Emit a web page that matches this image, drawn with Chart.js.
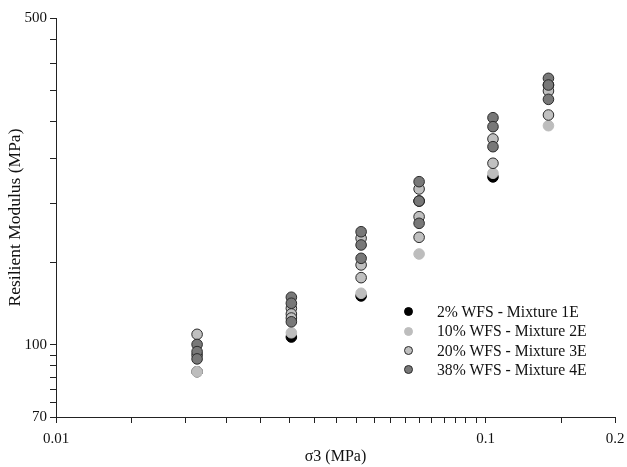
<!DOCTYPE html>
<html>
<head>
<meta charset="utf-8">
<script src="https://cdn.jsdelivr.net/npm/chart.js@4/dist/chart.umd.min.js"></script>
<style>
  html, body { margin: 0; padding: 0; background: #fff; }
  #wrap { position: relative; width: 627px; height: 467px; }
  #legend { position: absolute; left: 404px; top: 302px; font-family: 'Liberation Serif', 'Times New Roman', serif; font-size: 15.7px; color: #111; }
  .row { height: 19.4px; line-height: 19.4px; white-space: nowrap; display: flex; align-items: center; }
  .mk { width: 9px; height: 9px; border-radius: 50%; box-sizing: border-box; margin-right: 24px; flex: none; }
</style>
</head>
<body>
<div id="wrap">
  <canvas id="c" width="627" height="467"></canvas>
  <div id="legend"></div>
</div>
<script>
// ---- Data ----
const seriesNames = ['2% WFS - Mixture 1E', '10% WFS - Mixture 2E', '20% WFS - Mixture 3E', '38% WFS - Mixture 4E'];

// confining stress sigma3 (MPa) and resilient modulus (MPa) per series
const sigma3_1E  = [0.0213, 0.0353, 0.0513, 0.070, 0.104, 0.140];
const modulus_1E = [87.5, 103.8, 127.1, 202.9, 228.5, 359.4];

const sigma3_2E  = [0.0213, 0.0353, 0.0513, 0.070, 0.104, 0.140];
const modulus_2E = [87.5, 106.0, 128.8, 156.3, 232.7, 294.1];

const sigma3_3E  = [0.0213, 0.0213, 0.0353, 0.0353, 0.0353, 0.0513, 0.0513, 0.0513, 0.070, 0.070, 0.070, 0.104, 0.104, 0.140, 0.140];
const modulus_3E = [105.2, 95.0, 119.6, 116.3, 114.0, 168.9, 148.1, 139.1, 215.3, 187.8, 169.7, 275.5, 244.4, 349.0, 310.0];

const sigma3_4E  = [0.0213, 0.0213, 0.0213, 0.0353, 0.0353, 0.0353, 0.0513, 0.0513, 0.0513, 0.070, 0.070, 0.070, 0.104, 0.104, 0.104, 0.140, 0.140, 0.140];
const modulus_4E = [100.1, 96.6, 93.2, 126.3, 122.6, 111.9, 174.4, 163.4, 153.0, 223.2, 202.9, 181.8, 305.9, 292.7, 265.2, 371.4, 359.4, 334.9];

// axis ticks
const xTickValues = [0.01, 0.015, 0.02, 0.025, 0.03, 0.035, 0.04, 0.045, 0.05, 0.055, 0.06, 0.065, 0.07, 0.075, 0.08, 0.085, 0.09, 0.095, 0.1, 0.15, 0.2];
const xTickLabels = [0.01, 0.1, 0.2];
const yTickValues = [70, 75, 80, 85, 90, 95, 100, 150, 200, 250, 300, 350, 400, 450, 500];
const yTickLabels = [70, 100, 500];

// ---- Styles ----
const fills   = ['#000000', '#bdbdbd', '#c0c0c0', '#787878'];
const borders = ['#000000', '#bdbdbd', '#2a2a2a', '#2a2a2a'];
const drawOrder = [3, 2, 1, 0];

const xs = [sigma3_1E, sigma3_2E, sigma3_3E, sigma3_4E];
const ys = [modulus_1E, modulus_2E, modulus_3E, modulus_4E];

const FONT = "'Liberation Serif', 'Times New Roman', serif";

const datasets = seriesNames.map((name, i) => ({
  label: name,
  data: xs[i].map((x, j) => ({ x: x, y: ys[i][j] })),
  backgroundColor: fills[i],
  borderColor: borders[i],
  borderWidth: 1,
  pointRadius: 5.3,
  order: drawOrder[i],
  showLine: false
}));

function axisOpts(min, max, tickVals, tickLabels, isX) {
  return {
    type: 'logarithmic',
    min: min, max: max,
    afterBuildTicks: (scale) => { scale.ticks = tickVals.map(v => ({ value: v })); },
    ticks: {
      autoSkip: false, maxRotation: 0, minRotation: 0,
      padding: isX ? 7 : 3,
      color: '#111',
      font: { family: FONT, size: 15 },
      callback: (v) => tickLabels.some(t => Math.abs(t - v) < 1e-9) ? String(v) : ''
    },
    grid: { display: true, drawOnChartArea: false, drawTicks: true, tickLength: 6, color: '#222', lineWidth: 1 },
    border: { display: true, color: '#222', width: 1 },
    title: {
      display: true,
      text: isX ? 'σ3 (MPa)' : 'Resilient Modulus (MPa)',
      color: '#111',
      font: { family: FONT, size: isX ? 16 : 17.5 },
      padding: isX ? { top: 0, bottom: 1 } : { top: 5, bottom: 0 }
    },
    afterFit: (scale) => {
      if (isX) { scale.height = 50; scale.paddingLeft = 0; scale.paddingRight = 0; }
      else { scale.width = 56; scale.paddingTop = 0; scale.paddingBottom = 0; }
    }
  };
}

new Chart(document.getElementById('c'), {
  type: 'scatter',
  data: { datasets: datasets },
  options: {
    responsive: false,
    animation: false,
    layout: { padding: { top: 18, right: 12, left: 0, bottom: 0 } },
    plugins: { legend: { display: false }, tooltip: { enabled: false } },
    scales: {
      x: axisOpts(0.01, 0.2, xTickValues, xTickLabels, true),
      y: axisOpts(70, 500, yTickValues, yTickLabels, false)
    }
  },
  plugins: [{
    id: 'bg',
    beforeDraw: (chart) => {
      const c = chart.ctx; c.save(); c.fillStyle = '#fff'; c.fillRect(0, 0, chart.width, chart.height); c.restore();
    }
  }]
});

// HTML legend
const leg = document.getElementById('legend');
seriesNames.forEach((name, i) => {
  const row = document.createElement('div'); row.className = 'row';
  const mk = document.createElement('span'); mk.className = 'mk';
  mk.style.background = fills[i];
  mk.style.border = '1px solid ' + borders[i];
  const tx = document.createElement('span'); tx.textContent = name;
  row.appendChild(mk); row.appendChild(tx); leg.appendChild(row);
});
</script>
</body>
</html>
